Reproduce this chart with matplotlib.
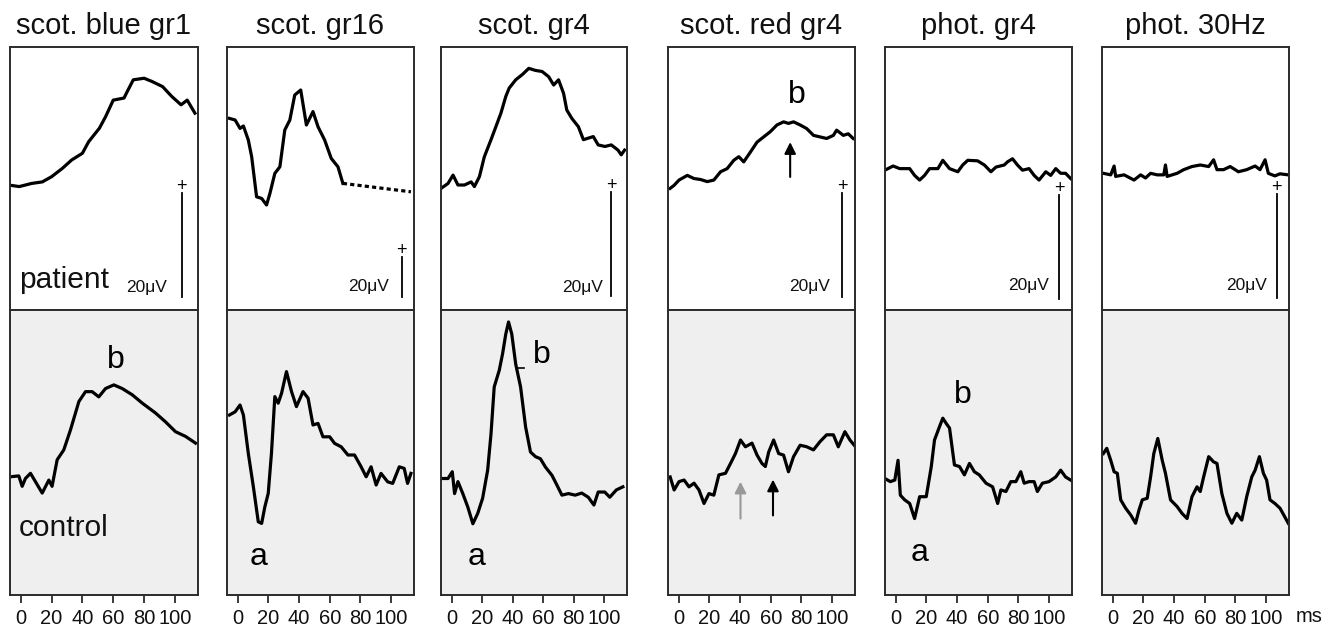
import matplotlib
matplotlib.use("Agg")
import matplotlib.pyplot as plt

plt.rcParams['font.family'] = ['Liberation Sans', 'DejaVu Sans']

# ---------------- data (time in ms, amplitude in microvolts) ----------------
titles = ["scot. blue gr1", "scot. gr16", "scot. gr4", "scot. red gr4", "phot. gr4", "phot. 30Hz"]
xticks = [0, 20, 40, 60, 80, 100]
row_labels = ["patient", "control"]
scale_label = "20\u03bcV"

# scot. blue gr1
blue_pat_t = [-8, -1, 3, 7, 14, 20, 27, 33, 40, 44, 51, 55, 60, 67, 69, 73, 80, 85, 92, 98, 104, 108, 113]
blue_pat_v = [0, -0.3, 0, 0.3, 0.6, 1.6, 3.2, 4.8, 6.1, 8.3, 10.9, 13.1, 16.3, 16.7, 17.9, 20.2, 20.5, 19.9,
              18.9, 17.0, 15.4, 16.3, 13.8]
blue_con_t = [-7.8, -1.3, 0.9, 3, 6.3, 9.5, 13.9, 18.2, 20.3, 23.6, 27.9, 32.2, 37.7, 42, 46.3, 50.6, 55, 60.4,
              65.8, 72.3, 78.8, 87.4, 93.9, 100.4, 106.9, 113.4]
blue_con_v = [0, 0.2, -1.8, -0.3, 0.7, -0.9, -3.1, -0.6, -1.8, 3.3, 5.2, 9.0, 14.5, 16.4, 16.4, 15.4, 17.0, 17.7,
              17.0, 15.8, 14.2, 12.3, 10.6, 8.7, 7.8, 6.5]

# scot. gr16
gr16_pat_t = [-5.4, -1.7, 1.5, 3.7, 6.9, 9.1, 12.3, 15.6, 18.8, 21, 24.2, 27.5, 30.7, 34, 37.2, 41.1, 44.8, 49.1,
              52.4, 56.7, 61, 65.4, 68.6]
gr16_pat_v = [0.8, 0, -4.2, -3, -10, -18.4, -38.4, -39.2, -42.5, -36.7, -26.7, -23.4, -5, 0, 12.5, 15, -2.5, 4.2,
              -3.4, -10, -19.2, -23.4, -31.7]
gr16_pat_extrap_t = [68.6, 113]
gr16_pat_extrap_v = [-31.7, -35.9]
gr16_con_t = [-5.4, -1.7, 1.5, 3.7, 6.9, 10.2, 13.4, 15.6, 17.7, 19.9, 22, 24.2, 26.4, 28.6, 31.8, 35.1, 38.3,
              42.6, 45.9, 49.1, 52.4, 55.6, 60, 63.2, 67.5, 71.9, 76.2, 80.5, 83.8, 87, 90.3, 93.5, 97.8, 101.1,
              105.4, 108.6, 110.8, 113]
gr16_con_v = [-1, 0.6, 4, -1, -20.2, -36.9, -54.4, -55.2, -46.9, -40.2, -20.2, 8.2, 4.9, 9.9, 20.7, 10.7, 3.2,
              10.7, 7.4, -6, -5.2, -11.9, -11.9, -15.2, -16.9, -21, -21, -26.9, -31.9, -26.9, -36, -30.2, -34.4,
              -35.2, -26.9, -27.7, -35.2, -30.2]

# scot. gr4
gr4_pat_t = [-6.7, -2.4, 0.9, 4.1, 8.4, 12.8, 14.9, 18.2, 21.4, 25.8, 29, 32.3, 35.5, 37.7, 42, 46.3, 50.6, 55,
             59.3, 63.6, 66.9, 70.1, 73.4, 75.5, 78.8, 83.1, 86.4, 89.6, 92.9, 96.1, 100.5, 104.7, 109.1, 111.2,
             113.4]
gr4_pat_v = [-0.6, 0.3, 1.9, 0, 0, 0.6, -0.3, 1.6, 5.4, 8.7, 11.2, 13.8, 17, 18.6, 20.2, 21.2, 22.4, 22, 21.8,
             20.8, 19.2, 20.2, 17.6, 14.4, 12.8, 11.2, 8.7, 9, 9.3, 7.7, 7.4, 7.7, 6.7, 5.8, 6.7]
gr4_con_t = [-6.7, -2.4, 0.4, 1.9, 4.1, 7.3, 10.6, 13.9, 17.1, 20.3, 23.6, 25.8, 27.9, 31.2, 33.4, 35.5, 37.3,
             39.4, 42, 45.2, 48.5, 51.7, 55, 58.2, 61.5, 65.8, 69.1, 72.3, 76.6, 81, 85.3, 89.6, 93.3, 96.1, 100.4,
             103.7, 108, 112.3]
gr4_con_v = [0, 0, 1.3, -2.9, -0.6, -2.9, -5.5, -8.7, -6.7, -3.8, 1.6, 8.6, 17.6, 20.8, 24, 27.8, 30.1, 27.8, 22,
             17.6, 9.9, 5.1, 4.2, 3.8, 2.2, 0.6, -1.3, -3.2, -2.9, -3.2, -2.8, -3.6, -5.1, -2.6, -2.6, -3.6, -2.2,
             -1.6]

# scot. red gr4
red_pat_t = [-5.6, -3, 0.2, 5.6, 9.9, 14.3, 18.6, 22.9, 27.3, 31.6, 35.9, 39.2, 42.4, 46.8, 51.1, 55.4, 59.7,
             64.1, 68.4, 71.6, 74.9, 79.2, 83.5, 87.9, 92.2, 96.5, 100.9, 103, 107.4, 110.6, 113.8]
red_pat_v = [-1, -0.4, 0.6, 1.5, 0.9, 0.7, 0.3, 0.6, 2.2, 2.8, 4.4, 5.1, 4.1, 6, 7.9, 8.9, 9.9, 11.2, 11.8, 11.5,
             11.8, 11.2, 10.5, 9.2, 8.9, 8.6, 9.2, 10.2, 9.2, 9.5, 8.6]
red_con_t = [-5.6, -3, 0.2, 3.5, 6.7, 10, 13.2, 16.5, 19.7, 22.9, 26.2, 30.5, 33.8, 37, 40.3, 43.5, 47.8, 51.1,
             54.3, 56.5, 58.7, 61.9, 65.2, 68.4, 71.6, 74.9, 79.2, 83.5, 87.9, 92.2, 96.5, 100.9, 104.1, 108.4,
             111.7, 114.5]
red_con_v = [0.6, -1.9, -0.3, 0, -1.3, -0.6, -1.9, -4.5, -2.6, -2.9, 1, 1.3, 3.2, 5.1, 7.7, 6.4, 7.1, 4.8, 3.2,
             2.6, 5.4, 7.7, 5.1, 4.8, 1.6, 4.5, 6.7, 6.4, 5.8, 7.4, 8.7, 8.7, 6.4, 9.3, 7.7, 6.7]

# phot. gr4
phot_pat_t = [-7.1, -1.7, 2.6, 9.1, 12.3, 15.6, 18.8, 22.1, 27.5, 30.7, 35.1, 40.5, 43.7, 47, 53.4, 57.8, 62.1,
              65.4, 70.8, 72.9, 76.2, 79.4, 82.7, 87, 90.3, 93.5, 97.9, 101.1, 104.4, 107.6, 110.8, 114.1]
phot_pat_v = [0, 0.8, 0.3, 0.3, -1, -1.9, -1, 0.3, 0.3, 1.9, 0.3, -0.3, 1, 1.9, 1.8, 1, -0.3, 0.6, 1, 1.6, 2.2,
              1, 0, 0.3, -1, -1.9, -0.3, -1, 0.3, -0.6, -0.6, -1.6]
phot_con_t = [-7.1, -3.5, -0.6, 1.5, 3, 5.8, 9.1, 12.3, 15.6, 19.9, 23.2, 25.3, 28.6, 30.7, 32.9, 35.1, 38.3,
              41.6, 44.8, 48.1, 51.3, 54.5, 58.9, 63.2, 66.5, 68.6, 71.9, 75.1, 78.4, 81.6, 83.8, 87, 90.3, 92.4,
              95.7, 100, 104.4, 107.6, 110.8, 114.1]
phot_con_v = [0.3, -0.3, 0, 3.8, -2.9, -3.8, -4.5, -7.4, -3.2, -3.2, 2.6, 7.7, 10.3, 11.9, 10.9, 10, 2.9, 2.6,
              1, 3.2, 1.6, 1, -0.6, -1.3, -4.5, -1.9, -2.2, -0.3, -0.3, 1.6, -0.6, -0.3, -0.3, -2.2, -0.6, -0.3,
              0.6, 1.9, 0.6, 0]

# phot. 30Hz
hz30_pat_t = [-6.1, -1.3, 0.9, 1.9, 7.4, 13.9, 18.2, 21.4, 24.7, 29, 33.3, 34.4, 35.5, 42, 46.3, 51.7, 57.1,
              62.6, 65.8, 68, 72.3, 76.6, 82, 87.4, 92.9, 96.1, 99.4, 101.5, 105.8, 109.1, 114.5]
hz30_pat_v = [0.3, 0, 1.7, -0.3, 0, -1, 0, -0.6, 0.3, 0, 0, 1.9, -0.3, 0.3, 1, 1.6, 1.9, 1.6, 2.9, 1, 1, 1.6,
              0.6, 1, 1.7, 1, 2.9, 0.3, -0.2, 0.2, 0]
hz30_con_t = [-6.1, -3.9, -1.3, 0.9, 3, 5.2, 8.4, 11.7, 14.9, 17.1, 19.3, 22.5, 24.7, 26.8, 29.4, 32.3, 34.4,
              37.7, 42, 45.2, 48.5, 51.7, 55, 57.1, 59.3, 62.6, 65.8, 68, 71.2, 74.5, 77.7, 80.9, 84.2, 87.4,
              90.7, 92.9, 95.7, 98.3, 100.4, 102.6, 105.8, 109.1, 112.3, 114.5]
hz30_con_v = [5.1, 6.1, 3.8, 1.6, 1.3, -3.8, -5.4, -6.7, -8.3, -5.8, -3.8, -3.5, 0.6, 5.1, 8, 3.8, 1.3, -3.8,
              -5.1, -6.4, -7.4, -3.2, -1.3, -2.2, 0.6, 4.5, 3.5, 3.2, -2.6, -6.4, -8.3, -6.4, -7.7, -3.2, 0.6, 1.9,
              4.5, 1.3, 0, -3.8, -4.5, -5.4, -7.1, -8.3]

patient_t = [blue_pat_t, gr16_pat_t, gr4_pat_t, red_pat_t, phot_pat_t, hz30_pat_t]
patient_v = [blue_pat_v, gr16_pat_v, gr4_pat_v, red_pat_v, phot_pat_v, hz30_pat_v]
control_t = [blue_con_t, gr16_con_t, gr4_con_t, red_con_t, phot_con_t, hz30_con_t]
control_v = [blue_con_v, gr16_con_v, gr4_con_v, red_con_v, phot_con_v, hz30_con_v]

# ---------------- layout / style ----------------
W, H = 1334, 628
col_px = [(10, 198), (227, 414), (441, 627), (668, 855), (885, 1072), (1102, 1289)]
top_px, mid_px, bot_px = 47, 310, 595
xlim = (-7, 115)
ylim_top = [(-24.0, 26.5), (-95, 36.5), (-24.0, 26.5), (-24.4, 26.2), (-26.9, 23.7), (-26.0, 24.6)]
ylim_bot = [(-22.7, 32.1), (-91, 51.5), (-22.4, 32.4), (-22.1, 32.7), (-22.1, 32.7), (-22.1, 32.7)]
# scale bar: x, bottom, top, label-right x, label y
bars = [(104.5, -21.5, -1.5, 95, -19.6), (107, -88.5, -68.5, 99, -83.3), (104.5, -21.3, -1.3, 99.4, -19.6),
        (106.5, -21.9, -1.9, 98.7, -19.9), (106.5, -24.8, -4.8, 100, -22.1), (107, -23.7, -3.7, 100.4, -21.2)]

EDGE = '#2b2b2b'
GRAY_BG = '#efefef'
LW = 2.3

fig = plt.figure(figsize=(W / 100, H / 100), dpi=100)


def frame(ax, bg):
    ax.set_facecolor(bg)
    ax.set_xlim(*xlim)
    for s in ax.spines.values():
        s.set_color(EDGE)
        s.set_linewidth(1.4)


for i in range(6):
    l, r = col_px[i]
    axt = fig.add_axes([l / W, 1 - mid_px / H, (r - l) / W, (mid_px - top_px) / H])
    axb = fig.add_axes([l / W, 1 - bot_px / H, (r - l) / W, (bot_px - mid_px) / H])
    frame(axt, 'white')
    frame(axb, GRAY_BG)
    axt.set_ylim(*ylim_top[i])
    axb.set_ylim(*ylim_bot[i])
    axt.set_xticks([])
    axt.set_yticks([])
    axb.set_yticks([])
    axb.set_xticks(xticks)
    axb.tick_params(axis='x', direction='out', length=6, width=1.3, color=EDGE, labelsize=14.5,
                    pad=4, labelcolor='#111111')

    axt.plot(patient_t[i], patient_v[i], color='black', lw=LW, solid_joinstyle='round')
    axb.plot(control_t[i], control_v[i], color='black', lw=LW, solid_joinstyle='round')

    # scale bar
    bx, b0, b1, tx, ty = bars[i]
    axt.plot([bx, bx], [b0, b1], color='black', lw=1.3)
    axt.text(bx, b1 + 0.025 * (ylim_top[i][1] - ylim_top[i][0]), '+', ha='center', va='center',
             fontsize=13, color='black')
    axt.text(tx, ty, scale_label, ha='right', va='center', fontsize=12.5, color='#111111')

    axt.set_title(titles[i], fontsize=21, pad=9, color='#111111')

# extrapolated dotted part (scot. gr16 patient)
fig.axes[2].plot(gr16_pat_extrap_t, gr16_pat_extrap_v, color='black', lw=LW, linestyle=(0, (1.3, 1.0)))

ax_bt, ax_bb = fig.axes[0], fig.axes[1]
ax_bt.text(-1.3, -18.3, row_labels[0], fontsize=21.5, ha='left', va='center', color='#111111')
ax_bb.text(-1.3, -9.8, row_labels[1], fontsize=21.5, ha='left', va='center', color='#111111')

LBL = 23
ax_bb.text(62, 22.5, 'b', fontsize=LBL, ha='center', va='center')
fig.axes[3].text(13.4, -71.9, 'a', fontsize=LBL, ha='center', va='center')
ax3b = fig.axes[5]
ax3b.text(59.3, 23.7, 'b', fontsize=LBL, ha='center', va='center')
ax3b.text(16, -15.1, 'a', fontsize=LBL, ha='center', va='center')
ax3b.plot([42.9, 47.4], [21.2, 21.2], color='black', lw=1.2)

ax4t, ax4b = fig.axes[6], fig.axes[7]
ax4t.text(77.1, 16.9, 'b', fontsize=LBL, ha='center', va='center')
ax4t.annotate('', xy=(72.7, 7.9), xytext=(72.7, 1.2),
              arrowprops=dict(arrowstyle='-|>', color='black', lw=1.5, mutation_scale=17, shrinkA=0, shrinkB=0))
ax4b.annotate('', xy=(40.3, -0.3), xytext=(40.3, -7.4),
              arrowprops=dict(arrowstyle='-|>', color='#999999', lw=1.5, mutation_scale=17, shrinkA=0, shrinkB=0))
ax4b.annotate('', xy=(61.5, 0.1), xytext=(61.5, -6.8),
              arrowprops=dict(arrowstyle='-|>', color='black', lw=1.5, mutation_scale=17, shrinkA=0, shrinkB=0))

ax5b = fig.axes[9]
ax5b.text(43.7, 16.3, 'b', fontsize=LBL, ha='center', va='center')
ax5b.text(15.6, -14.1, 'a', fontsize=LBL, ha='center', va='center')

fig.text(1296 / W, 1 - 617 / H, 'ms', fontsize=14.5, ha='left', va='center', color='#111111')

fig.savefig('out.png', dpi=100, facecolor='white')
